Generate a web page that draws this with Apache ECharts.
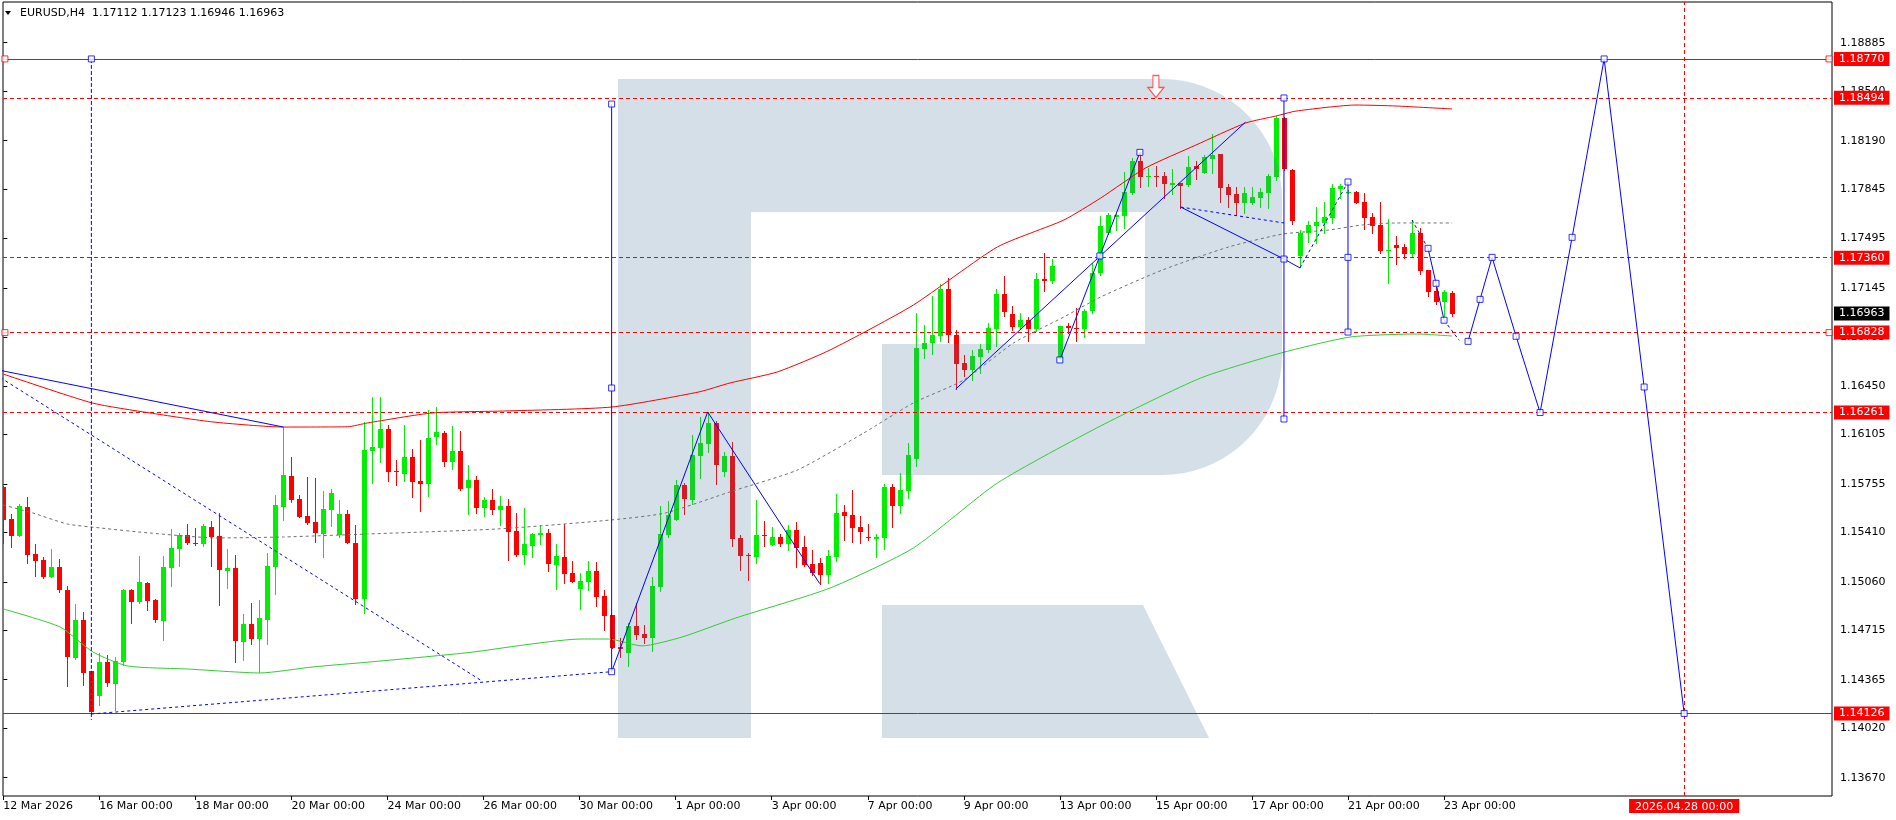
<!DOCTYPE html>
<html><head><meta charset="utf-8">
<script src="https://cdn.jsdelivr.net/npm/echarts@6/dist/echarts.min.js"></script>
<style>html,body{margin:0;padding:0;background:#fff}#c{width:1896px;height:820px}</style>
</head><body><div id="c"></div>
<script>
// ---------------- DATA ----------------
// H4 bars, index 0 = 12 Mar 2026 00:00
const opens = [1.15735,1.15506,1.15387,1.15591,1.15257,1.15215,1.15094,1.15165,1.15002,1.14522,1.14789,1.14427,1.14252,1.14491,1.14337,1.14491,1.15002,1.14919,1.15052,1.14931,1.14784,1.15160,1.15293,1.15392,1.15338,1.15328,1.15449,1.15385,1.15139,1.15158,1.14633,1.14761,1.14654,1.14792,1.15165,1.15591,1.15811,1.15648,1.15527,1.15484,1.15399,1.15570,1.15392,1.15541,1.15335,1.14938,1.15990,1.16012,1.16144,1.15846,1.15827,1.15946,1.15775,1.15756,1.16087,1.16116,1.15912,1.15988,1.15728,1.15782,1.15586,1.15640,1.15572,1.15598,1.15421,1.15253,1.15316,1.15395,1.15406,1.15182,1.15238,1.15125,1.15011,1.15061,1.15137,1.14962,1.14827,1.14600,1.14557,1.14749,1.14692,1.14664,1.15026,1.15395,1.15501,1.15747,1.15643,1.15955,1.16040,1.16187,1.15842,1.15953,1.15371,1.15248,1.15238,1.15395,1.15324,1.15378,1.15331,1.15428,1.15309,1.15189,1.15194,1.15111,1.15238,1.15555,1.15534,1.15449,1.15378,1.15366,1.15371,1.15733,1.15600,1.15707,1.15929,1.16712,1.16754,1.16804,1.17138,1.16811,1.16613,1.16563,1.16655,1.16705,1.16854,1.17102,1.16960,1.16868,1.16918,1.16854,1.17209,1.17194,1.16643,1.16873,1.16861,1.16854,1.16981,1.17249,1.17532,1.17651,1.17655,1.17816,1.18048,1.17935,1.17942,1.17939,1.17875,1.17887,1.17875,1.18010,1.17963,1.18058,1.18098,1.17864,1.17812,1.17745,1.17748,1.17783,1.17819,1.17930,1.18353,1.17982,1.17374,1.17537,1.17585,1.17608,1.17644,1.17849,1.17823,1.17826,1.17755,1.17648,1.17592,1.17410,1.17450,1.17436,1.17388,1.17535,1.17272,1.17123,1.17045,1.17112];
const highs = [1.15740,1.15541,1.15612,1.15662,1.15328,1.15234,1.15293,1.15222,1.15030,1.14903,1.14844,1.14427,1.14557,1.14538,1.14529,1.15009,1.15009,1.15243,1.15056,1.14938,1.15243,1.15435,1.15404,1.15470,1.15442,1.15470,1.15491,1.15546,1.15293,1.15250,1.14832,1.14910,1.14931,1.15265,1.15676,1.16158,1.15946,1.15676,1.15804,1.15797,1.15704,1.15719,1.15641,1.15570,1.15463,1.16194,1.16374,1.16374,1.16173,1.15924,1.16173,1.16002,1.16066,1.16279,1.16300,1.16130,1.16166,1.16130,1.15889,1.15811,1.15664,1.15719,1.15669,1.15650,1.15548,1.15586,1.15409,1.15463,1.15437,1.15331,1.15470,1.15210,1.15125,1.15205,1.15201,1.15002,1.14827,1.14664,1.14765,1.14912,1.14756,1.15094,1.15598,1.15636,1.15785,1.15759,1.16102,1.16229,1.16265,1.16201,1.15981,1.16052,1.15392,1.15262,1.15641,1.15491,1.15449,1.15399,1.15463,1.15484,1.15385,1.15288,1.15231,1.15286,1.15683,1.15605,1.15711,1.15527,1.15470,1.15399,1.15754,1.15754,1.15834,1.16047,1.16967,1.16882,1.17088,1.17173,1.17216,1.16844,1.16669,1.16705,1.16747,1.16896,1.17138,1.17232,1.17019,1.16967,1.16939,1.17251,1.17393,1.17350,1.16875,1.16896,1.17003,1.16996,1.17320,1.17655,1.17679,1.17670,1.17970,1.18065,1.18107,1.17994,1.18013,1.17970,1.17989,1.17887,1.18081,1.18048,1.18086,1.18240,1.18098,1.17883,1.17864,1.17864,1.17864,1.17852,1.17953,1.18367,1.18360,1.17987,1.17556,1.17620,1.17717,1.17752,1.17883,1.17880,1.17840,1.17833,1.17821,1.17674,1.17755,1.17632,1.17516,1.17457,1.17627,1.17568,1.17272,1.17154,1.17128,1.17123];
const lows = [1.15333,1.15309,1.15387,1.15196,1.15104,1.15090,1.15094,1.14990,1.14321,1.14512,1.14328,1.14126,1.14186,1.14321,1.14151,1.14470,1.14770,1.14907,1.14860,1.14777,1.14647,1.15030,1.15172,1.15326,1.15321,1.15316,1.15172,1.14896,1.15016,1.14491,1.14505,1.14619,1.14420,1.14619,1.14974,1.15499,1.15626,1.15520,1.15470,1.15343,1.15236,1.15456,1.15378,1.15335,1.14903,1.14839,1.15759,1.15912,1.15778,1.15749,1.15778,1.15664,1.15565,1.15671,1.16038,1.15884,1.15863,1.15714,1.15544,1.15551,1.15529,1.15544,1.15465,1.15217,1.15245,1.15189,1.15238,1.15331,1.15139,1.15011,1.15054,1.15061,1.14870,1.15004,1.14891,1.14721,1.14588,1.14529,1.14465,1.14657,1.14624,1.14572,1.14997,1.15380,1.15501,1.15544,1.15614,1.15799,1.15983,1.15756,1.15813,1.15316,1.15146,1.15075,1.15196,1.15317,1.15324,1.15317,1.15288,1.15168,1.15175,1.15111,1.15047,1.15054,1.15210,1.15359,1.15345,1.15338,1.15357,1.15238,1.15295,1.15451,1.15551,1.15657,1.15882,1.16648,1.16679,1.16769,1.16764,1.16428,1.16520,1.16494,1.16542,1.16691,1.16733,1.16946,1.16847,1.16854,1.16769,1.16840,1.17123,1.17180,1.16634,1.16823,1.16769,1.16799,1.16967,1.17237,1.17528,1.17556,1.17568,1.17812,1.17864,1.17871,1.17871,1.17781,1.17809,1.17715,1.17871,1.17916,1.17958,1.17963,1.17757,1.17722,1.17665,1.17679,1.17741,1.17717,1.17712,1.17911,1.17982,1.17599,1.17296,1.17473,1.17466,1.17537,1.17608,1.17781,1.17816,1.17745,1.17566,1.17537,1.17391,1.17182,1.17317,1.17360,1.17374,1.17244,1.17090,1.17031,1.16941,1.16946];
const closes = [1.15499,1.15387,1.15598,1.15253,1.15208,1.15094,1.15165,1.15002,1.14529,1.14789,1.14415,1.14135,1.14491,1.14345,1.14498,1.15002,1.14919,1.15059,1.14926,1.14791,1.15165,1.15300,1.15395,1.15335,1.15333,1.15458,1.15378,1.15144,1.15158,1.14640,1.14761,1.14654,1.14806,1.15172,1.15605,1.15818,1.15641,1.15520,1.15477,1.15406,1.15577,1.15690,1.15541,1.15335,1.14938,1.15995,1.16019,1.16144,1.15842,1.15837,1.15946,1.15771,1.15756,1.16080,1.16123,1.15912,1.15988,1.15721,1.15782,1.15586,1.15640,1.15572,1.15598,1.15416,1.15253,1.15328,1.15402,1.15409,1.15189,1.15245,1.15118,1.15061,1.15068,1.15137,1.14955,1.14820,1.14593,1.14586,1.14749,1.14685,1.14664,1.15033,1.15402,1.15536,1.15747,1.15650,1.15960,1.16045,1.16187,1.15891,1.15953,1.15366,1.15246,1.15241,1.15392,1.15388,1.15378,1.15331,1.15428,1.15302,1.15182,1.15120,1.15111,1.15246,1.15548,1.15529,1.15444,1.15413,1.15371,1.15378,1.15733,1.15600,1.15711,1.15960,1.16719,1.16754,1.16811,1.17138,1.16811,1.16605,1.16563,1.16662,1.16712,1.16861,1.17102,1.16974,1.16868,1.16918,1.16854,1.17209,1.17197,1.17301,1.16875,1.16858,1.16854,1.16981,1.17249,1.17585,1.17663,1.17663,1.17828,1.18048,1.17935,1.17942,1.17935,1.17880,1.17887,1.17871,1.18001,1.17991,1.18074,1.18088,1.17857,1.17804,1.17745,1.17819,1.17790,1.17828,1.17939,1.18353,1.17987,1.17620,1.17537,1.17592,1.17611,1.17648,1.17857,1.17868,1.17828,1.17750,1.17644,1.17587,1.17407,1.17414,1.17431,1.17388,1.17535,1.17268,1.17119,1.17045,1.17116,1.16963];

const xTickIdx = [0,12,24,36,48,60,72,84,96,108,120,132,144,156,168,180];
const xTickLabels = ['12 Mar 2026','16 Mar 00:00','18 Mar 00:00','20 Mar 00:00','24 Mar 00:00','26 Mar 00:00','30 Mar 00:00','1 Apr 00:00','3 Apr 00:00','7 Apr 00:00','9 Apr 00:00','13 Apr 00:00','15 Apr 00:00','17 Apr 00:00','21 Apr 00:00','23 Apr 00:00'];
const yTicks = [1.18885,1.18540,1.18190,1.17845,1.17495,1.17145,1.16795,1.16450,1.16105,1.15755,1.15410,1.15060,1.14715,1.14365,1.14020,1.13670];

// moving averages [bar index, price]
const maRed = [[0,1.16534],[11.1,1.16329],[18.3,1.16258],[26.2,1.16194],[35,1.16158],[43,1.16160],[45.5,1.16187],[53.6,1.16258],[62.7,1.16272],[76,1.16300],[86.9,1.16407],[90.8,1.16471],[96.7,1.16549],[103.3,1.16705],[113.7,1.17024],[124.2,1.17436],[132.5,1.17627],[137.1,1.17783],[142.7,1.17996],[149,1.18159],[155.2,1.18315],[159,1.18365],[161.5,1.18400],[169,1.18443],[174,1.18436],[181,1.18415]];
const maGreen = [[0,1.14867],[7.1,1.14739],[11.2,1.14562],[15.5,1.14463],[23,1.14441],[32.1,1.14413],[38.7,1.14456],[45.8,1.14491],[57.7,1.14555],[72.3,1.14654],[75.6,1.14654],[79.8,1.14605],[84.8,1.14668],[91.5,1.14803],[103.3,1.15016],[113.7,1.15300],[124.2,1.15761],[137.1,1.16166],[149.6,1.16506],[159.6,1.16683],[168.3,1.16797],[176.7,1.16818],[181,1.16804]];
const maGray = [[0,1.15605],[3.7,1.15548],[8,1.15470],[12.1,1.15442],[18.3,1.15406],[26.7,1.15371],[35,1.15378],[45.5,1.15399],[61.8,1.15435],[76,1.15499],[82.7,1.15548],[91.1,1.15704],[99.2,1.15853],[107.5,1.16116],[113.7,1.16329],[120,1.16492],[126.2,1.16754],[132.5,1.16939],[137.1,1.17081],[144.8,1.17272],[153.1,1.17436],[159.9,1.17528],[165.6,1.17556],[169.8,1.17592],[174,1.17606],[181,1.17606]];

// horizontal levels
const levelsSolid = [1.18770, 1.14126];
const levelsDashed = [1.18494, 1.17360, 1.16828, 1.16261];
const lastPrice = 1.16963;
const forecastDateIdx = 210;
const forecastDateLabel = '2026.04.28 00:00';

// drawn objects [bar index, price]
const trendSolid = [
  [[-1,1.16567],[35,1.16158]],
  [[76,1.14422],[88,1.16265],[102,1.15047]],
  [[119,1.16428],[155.2,1.18322]],
  [[132,1.16634],[137,1.17372],[142,1.18107]],
  [[147.1,1.17719],[160,1.17350],[162,1.17287]],
  [[178,1.17426],[179,1.17178],[180,1.16916]],
  [[76,1.18450],[76,1.14422]],
  [[160,1.18493],[160,1.16215]],
  [[168,1.17897],[168,1.16832]]
];
const trendDashed = [
  [[-1,1.16531],[59.8,1.14356]],
  [[11,1.14122],[76,1.14422]],
  [[147.1,1.17719],[160,1.17606]],
  [[162,1.17287],[168,1.17897]],
  [[176,1.17627],[178,1.17426]],
  [[180,1.16916],[181.9,1.16773]]
];
const vDashed = [[11,1.18770],[11,1.14080]];
const forecast = [[183,1.16766],[184.5,1.17064],[186,1.17362],[189,1.16802],[192,1.16261],[196,1.17504],[200,1.18770],[205,1.16442],[210,1.14126]];
const blueSquares = [[11,1.18770],[76,1.18450],[76,1.16435],[76,1.14422],[132,1.16634],[137,1.17372],[142,1.18107],[160,1.18493],[160,1.17350],[160,1.16215],[168,1.17897],[168,1.17362],[168,1.16832],[178,1.17426],[179,1.17178],[180,1.16916]];
const redSquares = [[0.2,1.18770],[228.1,1.18770],[0.2,1.16828],[228.1,1.16828]];
const arrowMark = [[144,1.18574]];

// ---------------- CHART ----------------
const FONT = 'DejaVu Sans';
const chart = echarts.init(document.getElementById('c'), null, {renderer: 'canvas'});
const candleData = opens.map((o, i) => [i, o, closes[i], lows[i], highs[i]]);

function lineSeries(data, color, type, z, smooth) {
  return {type: 'line', data: data, symbol: 'none', silent: true, animation: false, z: z || 5,
    smooth: smooth || false,
    lineStyle: {color: color, width: 1, type: type || 'solid'}};
}
function priceLabel(bg) {
  return {show: true, position: 'end', distance: 2, backgroundColor: bg, color: '#fff',
    padding: [2, 5, 0, 5], lineHeight: 12, fontSize: 11, fontFamily: FONT,
    formatter: p => Number(p.value).toFixed(5)};
}

const series = [];
series.push({
  type: 'custom', name: 'EURUSD', data: candleData, clip: true, z: 2, silent: true, animation: false,
  encode: {x: 0, y: [1, 2, 3, 4]},
  renderItem: function (params, api) {
    const i = api.value(0), o = api.value(1), c = api.value(2), l = api.value(3), h = api.value(4);
    const po = api.coord([i, o]), pc = api.coord([i, c]), pl = api.coord([i, l]), ph = api.coord([i, h]);
    const x = Math.round(po[0]) + 0.5;
    const color = c >= o ? '#00f000' : '#ff0000';
    const top = Math.round(Math.min(po[1], pc[1]));
    const bot = Math.round(Math.max(po[1], pc[1]));
    return {type: 'group', children: [
      {type: 'line', shape: {x1: x, y1: Math.round(ph[1]), x2: x, y2: Math.round(pl[1]) + 1}, style: {stroke: color, lineWidth: 1}},
      {type: 'rect', shape: {x: x - 2.5, y: top, width: 5, height: Math.max(1, bot - top)}, style: {fill: color}}
    ]};
  }
});
series.push(lineSeries(maRed, '#ff0000', 'solid', 5, 0.2));
series.push(lineSeries(maGreen, '#33cc33', 'solid', 5, 0.2));
series.push(lineSeries(maGray, '#707070', [3, 3], 5, 0.2));
trendSolid.forEach(d => series.push(lineSeries(d, '#0000ff', 'solid', 6)));
trendDashed.forEach(d => series.push(lineSeries(d, '#0000ff', [3, 3], 6)));
series.push(lineSeries(vDashed, '#0000ff', [4, 2], 6));
series.push(lineSeries(forecast, '#0000ff', 'solid', 6));
series.push({type: 'scatter', data: blueSquares.concat(forecast), symbol: 'rect', symbolSize: 6, z: 7, silent: true, animation: false,
  itemStyle: {color: '#fff', borderColor: '#0000ff', borderWidth: 1}});
series.push({type: 'scatter', data: redSquares, symbol: 'rect', symbolSize: 6, z: 7, silent: true, animation: false, clip: false,
  itemStyle: {color: '#fff', borderColor: '#ff0000', borderWidth: 1}});
series.push({type: 'scatter', data: arrowMark, symbol: 'path://M5,0 L11,0 L11,12 L16,12 L8,22 L0,12 L5,12 Z', symbolSize: [16, 22], z: 7, silent: true, animation: false,
  itemStyle: {color: '#fff', borderColor: '#ff3030', borderWidth: 1.2}});
// levels
const mlData = [];
levelsSolid.forEach(v => mlData.push({yAxis: v, lineStyle: {color: '#ff0000', type: 'solid', width: 1}, label: priceLabel('#ff0000')}));
levelsDashed.forEach(v => mlData.push({yAxis: v, lineStyle: {color: '#ff0000', type: [4, 3], width: 1}, label: priceLabel('#ff0000')}));
mlData.push({yAxis: lastPrice, lineStyle: {color: 'rgba(0,0,0,0)', width: 0}, label: priceLabel('#000000')});
mlData.push({xAxis: forecastDateIdx, lineStyle: {color: '#ff0000', type: [4, 3], width: 1},
  label: {show: true, position: 'start', distance: 3, backgroundColor: '#ff0000', color: '#fff', padding: [2, 6, 0, 6], lineHeight: 12,
    fontSize: 11, fontFamily: FONT, formatter: forecastDateLabel}});
series.push({type: 'line', data: [], z: 8, silent: true, animation: false,
  markLine: {silent: true, symbol: 'none', animation: false, precision: 5, data: mlData}});

// watermark logo (decoration) as semi-transparent overlay
function logoPoints() {
  const pts = [[618, 79], [1162, 79]];
  const R = 120;
  for (let a = -90; a <= 0; a += 5) { const t = a * Math.PI / 180; pts.push([1162 + R * Math.cos(t), 199 + R * Math.sin(t)]); }
  for (let a = 0; a <= 90; a += 5) { const t = a * Math.PI / 180; pts.push([1162 + R * Math.cos(t), 355 + R * Math.sin(t)]); }
  pts.push([882, 475], [882, 344], [1145, 344], [1145, 212], [751, 212], [751, 738], [618, 738]);
  return pts;
}

chart.setOption({
  backgroundColor: '#ffffff',
  animation: false,
  grid: {left: 3, right: 64, top: 2, bottom: 24, show: true, borderColor: '#000', borderWidth: 1, backgroundColor: '#fff'},
  xAxis: {type: 'value', min: -0.04, max: 228.47, splitLine: {show: false},
    axisLine: {show: false},
    axisTick: {show: true, customValues: xTickIdx, length: 4, lineStyle: {color: '#000'}},
    axisLabel: {customValues: xTickIdx, formatter: v => xTickLabels[xTickIdx.indexOf(v)] || '', align: 'left',
      margin: 5, color: '#000', fontSize: 11, fontFamily: FONT}},
  yAxis: {type: 'value', position: 'right', min: 1.13540, max: 1.19174, scale: true, splitLine: {show: false},
    axisLine: {show: false},
    axisTick: {show: true, customValues: yTicks, length: 4, lineStyle: {color: '#000'}},
    axisLabel: {customValues: yTicks, formatter: v => Number(v).toFixed(5), margin: 8, color: '#000', fontSize: 11, fontFamily: FONT}},
  graphic: [
    {type: 'polygon', z: 3, silent: true, shape: {points: logoPoints()}, style: {fill: 'rgba(77,119,153,0.235)'}},
    {type: 'polygon', z: 3, silent: true, shape: {points: [[882, 605], [1143, 605], [1209, 738], [882, 738]]}, style: {fill: 'rgba(77,119,153,0.235)'}},
    {type: 'polygon', z: 20, silent: true, shape: {points: [[5, 11], [11, 11], [8, 15]]}, style: {fill: '#000'}},
    {type: 'text', z: 20, silent: true, x: 20, y: 13, style: {text: 'EURUSD,H4  1.17112 1.17123 1.16946 1.16963', font: '11px "DejaVu Sans"', fill: '#000', verticalAlign: 'middle'}}
  ],
  series: series
});
</script>
</body></html>
